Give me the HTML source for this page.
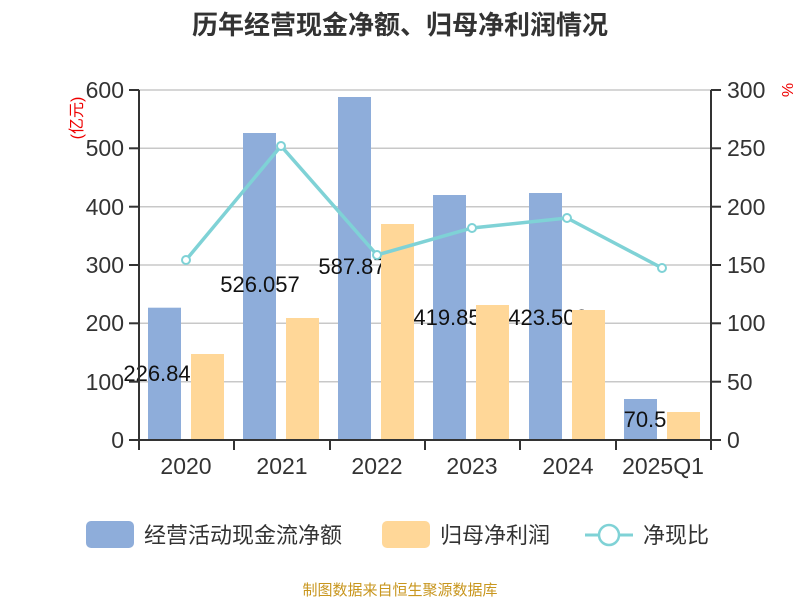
<!DOCTYPE html>
<html><head><meta charset="utf-8"><style>
html,body{margin:0;padding:0;background:#fff;}
svg{display:block;font-family:"Liberation Sans","Noto Sans CJK SC",sans-serif;}
</style></head><body>
<svg width="800" height="600" viewBox="0 0 800 600">
<text x="400" y="34" text-anchor="middle" font-size="26" font-weight="bold" fill="#333">历年经营现金净额、归母净利润情况</text>
<g stroke="#c8c8c8" stroke-width="1.5">
<line x1="139" y1="90" x2="711" y2="90"/><line x1="139" y1="148.3" x2="711" y2="148.3"/>
<line x1="139" y1="206.7" x2="711" y2="206.7"/><line x1="139" y1="265" x2="711" y2="265"/>
<line x1="139" y1="323.3" x2="711" y2="323.3"/><line x1="139" y1="381.7" x2="711" y2="381.7"/>
</g>
<g fill="#8eadda">
<rect x="148" y="307.7" width="33" height="132.3"/>
<rect x="243" y="133" width="33" height="307"/>
<rect x="338" y="97" width="33" height="343"/>
<rect x="433" y="195" width="33" height="245"/>
<rect x="529" y="193" width="33" height="247"/>
<rect x="624" y="399" width="33" height="41"/>
</g>
<g font-size="22" fill="#111" text-anchor="middle">
<text x="157" y="381">226.84</text>
<text x="260" y="292">526.057</text>
<text x="352" y="274">587.87</text>
<text x="447" y="325">419.85</text>
<text x="548" y="325">423.502</text>
<text x="645" y="427">70.5</text>
</g>
<g fill="#ffd798">
<rect x="191" y="354" width="33" height="86"/>
<rect x="286" y="318" width="33" height="122"/>
<rect x="381" y="224" width="33" height="216"/>
<rect x="476" y="305" width="33" height="135"/>
<rect x="572" y="310" width="33" height="130"/>
<rect x="667" y="412" width="33" height="28"/>
</g>
<polyline points="186,260 281,146 377,255 472,228 567,218 662,268" fill="none" stroke="#7fd2d6" stroke-width="3.5"/>
<g fill="#fff" stroke="#7fd2d6" stroke-width="2">
<circle cx="186" cy="260" r="4"/><circle cx="281" cy="146" r="4"/><circle cx="377" cy="255" r="4"/>
<circle cx="472" cy="228" r="4"/><circle cx="567" cy="218" r="4"/><circle cx="662" cy="268" r="4"/>
</g>
<g stroke="#333" stroke-width="2">
<line x1="139" y1="90" x2="139" y2="440"/><line x1="711" y1="90" x2="711" y2="440"/>
<line x1="139" y1="440" x2="711" y2="440"/>
<line x1="129" y1="90" x2="139" y2="90"/><line x1="129" y1="148.3" x2="139" y2="148.3"/><line x1="129" y1="206.7" x2="139" y2="206.7"/><line x1="129" y1="265" x2="139" y2="265"/><line x1="129" y1="323.3" x2="139" y2="323.3"/><line x1="129" y1="381.7" x2="139" y2="381.7"/><line x1="129" y1="440" x2="139" y2="440"/>
<line x1="711" y1="90" x2="721" y2="90"/><line x1="711" y1="148.3" x2="721" y2="148.3"/><line x1="711" y1="206.7" x2="721" y2="206.7"/><line x1="711" y1="265" x2="721" y2="265"/><line x1="711" y1="323.3" x2="721" y2="323.3"/><line x1="711" y1="381.7" x2="721" y2="381.7"/><line x1="711" y1="440" x2="721" y2="440"/>
<line x1="139" y1="440" x2="139" y2="450"/><line x1="234" y1="440" x2="234" y2="450"/><line x1="330" y1="440" x2="330" y2="450"/><line x1="425" y1="440" x2="425" y2="450"/><line x1="520" y1="440" x2="520" y2="450"/><line x1="616" y1="440" x2="616" y2="450"/><line x1="711" y1="440" x2="711" y2="450"/>
</g>
<g font-size="23" fill="#333" text-anchor="end">
<text x="124" y="98">600</text><text x="124" y="156">500</text><text x="124" y="215">400</text><text x="124" y="273">300</text><text x="124" y="331">200</text><text x="124" y="390">100</text><text x="124" y="448">0</text>
</g>
<g font-size="23" fill="#333" text-anchor="start">
<text x="727" y="98">300</text><text x="727" y="156">250</text><text x="727" y="215">200</text><text x="727" y="273">150</text><text x="727" y="331">100</text><text x="727" y="390">50</text><text x="727" y="448">0</text>
</g>
<g font-size="23" fill="#333" text-anchor="middle">
<text x="186" y="474">2020</text><text x="282" y="474">2021</text><text x="377" y="474">2022</text><text x="472" y="474">2023</text><text x="568" y="474">2024</text><text x="663" y="474">2025Q1</text>
</g>
<text transform="translate(82,118) rotate(-90)" font-size="16" fill="#e00" text-anchor="middle">(亿元)</text>
<text transform="translate(782,90) rotate(90)" font-size="16" fill="#e00" text-anchor="middle">%</text>
<rect x="86" y="521" width="48" height="27" rx="5" fill="#8eadda"/>
<text x="144" y="543" font-size="22" fill="#333">经营活动现金流净额</text>
<rect x="382" y="521" width="48" height="27" rx="5" fill="#ffd798"/>
<text x="440" y="543" font-size="22" fill="#333">归母净利润</text>
<line x1="585" y1="535" x2="633" y2="535" stroke="#7fd2d6" stroke-width="3"/>
<circle cx="609" cy="535" r="10" fill="#fff" stroke="#7fd2d6" stroke-width="2.5"/>
<text x="643" y="543" font-size="22" fill="#333">净现比</text>
<text x="400" y="595" font-size="15" fill="#c8961e" text-anchor="middle">制图数据来自恒生聚源数据库</text>
</svg>
</body></html>
